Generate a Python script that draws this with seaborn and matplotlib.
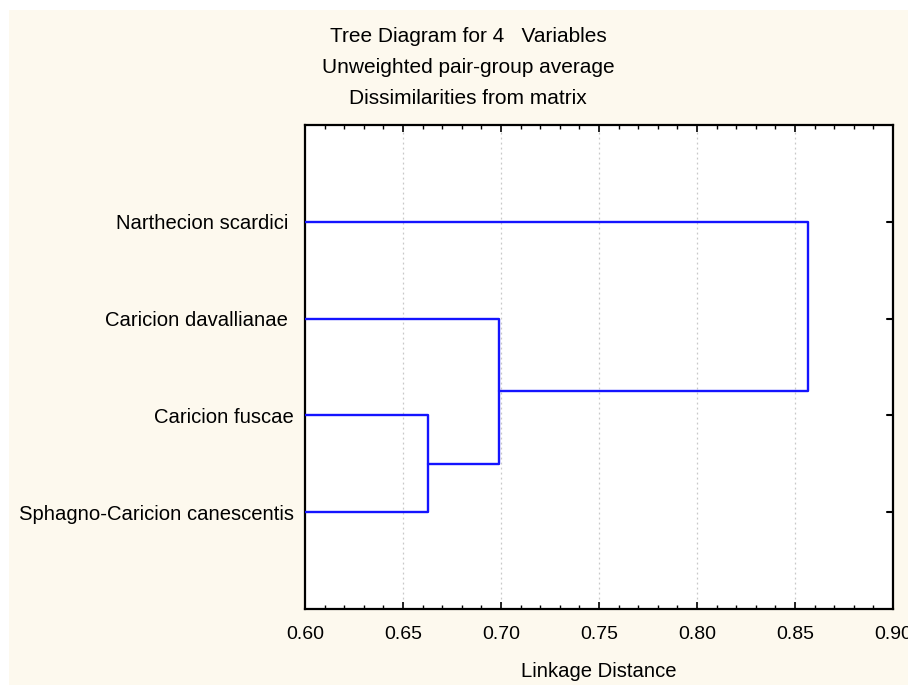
import matplotlib
matplotlib.use("Agg")
import matplotlib.pyplot as plt
from matplotlib.patches import Rectangle
from matplotlib.ticker import MultipleLocator
import numpy as np
import pandas as pd
import seaborn as sns

# Leaves, top to bottom
leaf_labels = ["Narthecion scardici ", "Caricion davallianae ", "Caricion fuscae",
               "Sphagno-Caricion canescentis"]
# Merges: (left member, right member, linkage distance); members >= 4 are earlier clusters
merge_left = [2, 1, 0]
merge_right = [3, 4, 5]
merge_dist = [0.663, 0.6988, 0.8565]

x_ticks = [0.60, 0.65, 0.70, 0.75, 0.80, 0.85, 0.90]
x_tick_labels = ["0.60", "0.65", "0.70", "0.75", "0.80", "0.85", "0.90"]

title_lines = ["Tree Diagram for 4   Variables",
               "Unweighted pair-group average",
               "Dissimilarities from matrix"]

x_min = x_ticks[0]

# Build the elbow segments of the tree
n = len(leaf_labels)
node_y = {i: i + 1 for i in range(n)}
node_x = {i: x_min for i in range(n)}
rows = []
for k, (a, b, d) in enumerate(zip(merge_left, merge_right, merge_dist)):
    seg = [(node_x[a], node_y[a]), (d, node_y[a]), (d, node_y[b]), (node_x[b], node_y[b])]
    for j, (xx, yy) in enumerate(seg):
        rows.append({"link": k, "order": j, "x": xx, "y": yy})
    new = n + k
    node_y[new] = (node_y[a] + node_y[b]) / 2
    node_x[new] = d
segments = pd.DataFrame(rows)

sns.set_style("white")
plt.rcParams["font.family"] = ["Liberation Sans", "DejaVu Sans"]
plt.rcParams["text.color"] = "black"
plt.rcParams["axes.labelcolor"] = "black"
plt.rcParams["xtick.color"] = "black"
plt.rcParams["ytick.color"] = "black"

W, H = 908, 685
fig = plt.figure(figsize=(W / 100, H / 100), dpi=100, facecolor="white")
fig.patches.append(Rectangle((9 / W, 0), 1 - 9 / W, 1 - 10 / H, transform=fig.transFigure,
                             facecolor="#FDF9EE", edgecolor="none", zorder=-10))

ax = fig.add_axes([305 / W, 1 - 609 / H, (893 - 305) / W, (609 - 125) / H])
ax.set_facecolor("white")

for x in x_ticks[1:-1]:
    ax.axvline(x, color="#C8C8C8", linestyle=(0, (1.5, 2.5)), linewidth=0.9, zorder=0)

sns.lineplot(data=segments, x="x", y="y", units="link", estimator=None, sort=False,
             color="#1414FF", linewidth=1.7, ax=ax, legend=False, zorder=3)

ax.set_xlim(x_ticks[0], x_ticks[-1])
ax.set_ylim(n + 1, 0)
ax.set_xticks(x_ticks)
ax.set_xticklabels(x_tick_labels, fontsize=14)
ax.xaxis.set_minor_locator(MultipleLocator(0.01))
ax.set_yticks(range(1, n + 1))
ax.set_yticklabels(leaf_labels, fontsize=14.6)

ax.tick_params(axis="x", which="major", direction="in", length=5, width=1.2,
               top=True, bottom=True, pad=12, colors="black")
ax.tick_params(axis="x", which="minor", direction="in", length=3, width=1.0,
               top=True, bottom=True)
ax.tick_params(axis="y", which="major", direction="in", length=0, left=True,
               right=False, pad=8, colors="black")
for yv in range(1, n + 1):
    ax.plot([x_ticks[-1] - 0.003, x_ticks[-1]], [yv, yv], color="black", linewidth=1.5,
            clip_on=False, zorder=4)

for s in ax.spines.values():
    s.set_visible(True)
    s.set_color("black")
    s.set_linewidth(1.6)

ax.set_xlabel("Linkage Distance", fontsize=14.6, labelpad=14, color="black")
ax.set_ylabel("")

for i, line in enumerate(title_lines):
    fig.text(468 / W, 1 - (37 + 30.5 * i) / H, line, ha="center", va="center",
             fontsize=15, color="black")

fig.savefig("out.png", dpi=100, facecolor=fig.get_facecolor())
